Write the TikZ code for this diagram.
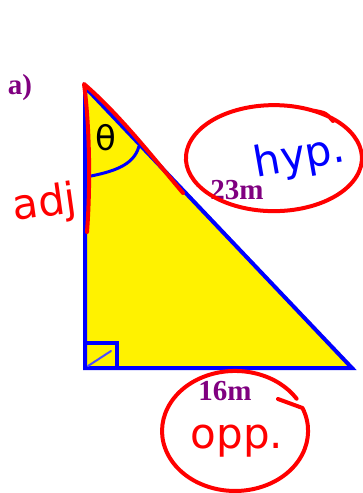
\documentclass[tikz,border=0pt]{standalone}
\usepackage{fontspec}
\setmainfont{Liberation Serif}
\newfontfamily\handfont{DejaVu Sans}
\usepackage{xcolor}
\usetikzlibrary{positioning}
\definecolor{lblpurple}{RGB}{128,0,128}

\begin{document}
\begin{tikzpicture}[x=1pt, y=-1pt,
    side/.style={draw=blue, line width=4pt, line join=miter},
    ink/.style={red, line width=4pt, line cap=round, line join=round},
    measure/.style={font=\fontsize{29}{32}\selectfont\bfseries, text=lblpurple, inner sep=0pt},
    scrawl/.style={font=\handfont\fontsize{42}{46}\selectfont, inner sep=0pt}
]
\useasboundingbox (0,0) rectangle (362,493);

% Triangle
\coordinate (top) at (85,87);
\coordinate (corner) at (85,368);
\coordinate (right) at (352,368);
\filldraw[side, fill=yellow] (top) -- (corner) -- (right) -- cycle;

% Right angle mark
\draw[blue, line width=3.5pt] (85,343) -- (117,343) -- (117,368);
\draw[blue!70, line width=2pt, line cap=round] (88,366) -- (111,351);

% Angle at the top
\coordinate (arcA) at (86,177);
\coordinate (arcB) at (139,146);
\draw[blue, line width=3pt] (arcA) .. controls (112,172) and (134,166) .. (arcB);
\node[font=\handfont\fontsize{34}{36}\selectfont, inner sep=0pt] (theta) at (106,138) {θ};

% Red marks along adj and hyp
\draw[ink] (87,232) .. controls (91,180) and (89,120) .. (84,84)
    .. controls (120,115) and (155,160) .. (183,193);

% Lengths
\node[measure] (alabel) at (20,88) {a)};
\node[measure] (hypval) at (237,190) {23m};
\node[measure] (oppval) at (225,391) {16m};

% Scrawled names
\node[scrawl, text=blue, rotate=10] (hyp) at (300,158) {hyp.};
\node[scrawl, text=red, rotate=8] (adj) at (45,205) {adj};
\node[scrawl, text=red, below=24pt of oppval, xshift=12pt] (opp) {opp.};

% Circles round the names
\draw[ink] (333,121) .. controls (326,113) .. (312.5,110.5)
    arc[start angle=-64, end angle=-424, x radius=88, y radius=53];
\draw[ink] (278,399) -- (302.5,408)
    arc[start angle=-22.5, end angle=327.5, x radius=73, y radius=60];
\end{tikzpicture}
\end{document}
